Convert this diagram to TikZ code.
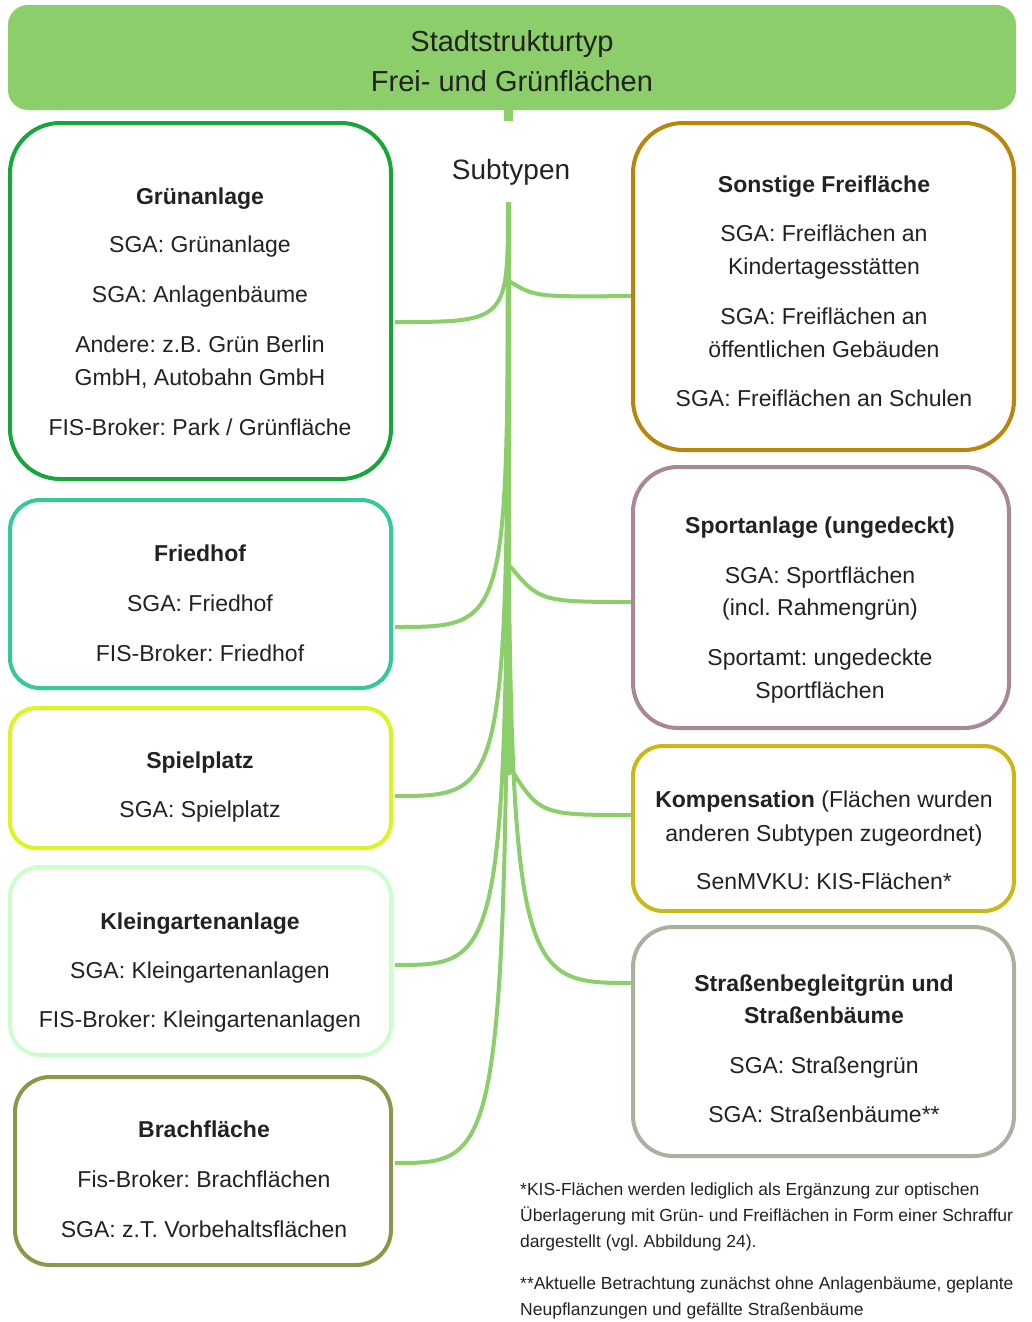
\documentclass[tikz,border=0pt]{standalone}
\usepackage{fontspec}
\setmainfont{Liberation Sans}
\frenchspacing
\definecolor{hdr}{RGB}{139,206,106}
\definecolor{cGruen}{RGB}{24,166,60}
\definecolor{cFried}{RGB}{52,202,152}
\definecolor{cSpiel}{RGB}{218,245,32}
\definecolor{cKlein}{RGB}{204,253,204}
\definecolor{cBrach}{RGB}{138,152,72}
\definecolor{cSonst}{RGB}{186,133,12}
\definecolor{cSport}{RGB}{168,135,150}
\definecolor{cKomp}{RGB}{202,183,26}
\definecolor{cStr}{RGB}{168,178,158}
\definecolor{txtc}{RGB}{34,34,34}
\tikzset{
  box/.style={draw=#1, line width=4pt, fill=white, inner sep=0pt},
  conn/.style={draw=hdr, line width=4pt},
  txt/.style={anchor=base, inner sep=0pt, text=txtc, font=\fontsize{23}{27}\selectfont},
  ttl/.style={txt, font=\fontsize{23}{27}\selectfont\bfseries},
  foot/.style={anchor=base west, inner sep=0pt, text=txtc, font=\fontsize{17.5}{21}\selectfont},
}
\begin{document}
\begin{tikzpicture}[x=1pt,y=-1pt]
\useasboundingbox (0,0) rectangle (1031,1322);
% header
\node[fill=hdr, rounded corners=20pt, minimum width=1008pt, minimum height=105pt, inner sep=0pt] (hdr) at (512,57.5) {};
\node[txt, font=\fontsize{29}{33}\selectfont] (h1) at (512,52) {Stadtstrukturtyp};
\node[txt, font=\fontsize{29}{33}\selectfont] (h2) at (512,92) {Frei- und Grünflächen};
\coordinate (stub) at (508,121);
\draw[hdr, line width=9pt] (508,109) -- (stub);
\node[txt, font=\fontsize{28}{32}\selectfont] (sub) at (511,179) {Subtypen};
\coordinate (top) at (508,202);
% trunk
\draw[conn, line width=5pt] (top) -- (508,775);
% connectors (left)
\draw[conn] (top) .. controls (508,322) .. (395,322) coordinate (cg);
\draw[conn] (top) .. controls (508,627) .. (395,627) coordinate (cf);
\draw[conn] (top) .. controls (508,796) .. (395,796) coordinate (cs);
\draw[conn] (top) .. controls (508,965) .. (395,965) coordinate (ck);
\draw[conn] (top) .. controls (508,1163) .. (395,1163) coordinate (cb);
% connectors (right)
\draw[conn] (509,281) .. controls (535,297) .. (633,296);
\draw[conn] (509,565) .. controls (540,602) .. (637,602);
\draw[conn] (509,766) .. controls (540,815) .. (633,815);
\draw[conn] (top) .. controls (508,983) .. (633,983);
% left boxes
\node[box=cGruen, rounded corners=50pt, minimum width=381pt, minimum height=356pt] (gruen) at (200.5,301) {};
\node[box=cFried, rounded corners=30pt, minimum width=381pt, minimum height=188pt] (fried) at (200.5,594) {};
\node[box=cSpiel, rounded corners=26pt, minimum width=381pt, minimum height=140pt] (spiel) at (200.5,778) {};
\node[box=cKlein, rounded corners=30pt, minimum width=381pt, minimum height=188pt] (klein) at (200.5,961) {};
\node[box=cBrach, rounded corners=35pt, minimum width=376pt, minimum height=188pt] (brach) at (203,1171) {};
% right boxes
\node[box=cSonst, rounded corners=50pt, minimum width=381pt, minimum height=327pt] (sonst) at (823.5,286.5) {};
\node[box=cSport, rounded corners=45pt, minimum width=376pt, minimum height=261pt] (sport) at (821,597.5) {};
\node[box=cKomp, rounded corners=30pt, minimum width=381pt, minimum height=165pt] (komp) at (823.5,828.5) {};
\node[box=cStr, rounded corners=40pt, minimum width=381pt, minimum height=229pt] (str) at (823.5,1041.5) {};
% texts left
\node[ttl] (g0) at (200,204) {Grünanlage};
\node[txt] (g1) at (200,252) {SGA: Grünanlage};
\node[txt] (g2) at (200,302) {SGA: Anlagenbäume};
\node[txt] (g3) at (200,352) {Andere: z.B. Grün Berlin};
\node[txt] (g4) at (200,385) {GmbH, Autobahn GmbH};
\node[txt] (g5) at (200,435) {FIS-Broker: Park / Grünfläche};
\node[ttl] (f0) at (200,561) {Friedhof};
\node[txt] (f1) at (200,611) {SGA: Friedhof};
\node[txt] (f2) at (200,661) {FIS-Broker: Friedhof};
\node[ttl] (s0) at (200,768) {Spielplatz};
\node[txt] (s1) at (200,817) {SGA: Spielplatz};
\node[ttl] (k0) at (200,929) {Kleingartenanlage};
\node[txt] (k1) at (200,978) {SGA: Kleingartenanlagen};
\node[txt] (k2) at (200,1027) {FIS-Broker: Kleingartenanlagen};
\node[ttl] (b0) at (204,1137) {Brachfläche};
\node[txt] (b1) at (204,1187) {Fis-Broker: Brachflächen};
\node[txt] (b2) at (204,1237) {SGA: z.T. Vorbehaltsflächen};
% texts right
\node[ttl] (o0) at (824,192) {Sonstige Freifläche};
\node[txt] (o1) at (824,241) {SGA: Freiflächen an};
\node[txt] (o2) at (824,274) {Kindertagesstätten};
\node[txt] (o3) at (824,324) {SGA: Freiflächen an};
\node[txt] (o4) at (824,357) {öffentlichen Gebäuden};
\node[txt] (o5) at (824,406) {SGA: Freiflächen an Schulen};
\node[ttl] (p0) at (820,533) {Sportanlage (ungedeckt)};
\node[txt] (p1) at (820,583) {SGA: Sportflächen};
\node[txt] (p2) at (820,615) {(incl. Rahmengrün)};
\node[txt] (p3) at (820,665) {Sportamt: ungedeckte};
\node[txt] (p4) at (820,698) {Sportflächen};
\node[txt] (m0) at (824,807) {\textbf{Kompensation} (Flächen wurden};
\node[txt] (m1) at (824,841) {anderen Subtypen zugeordnet)};
\node[txt] (m2) at (824,889) {SenMVKU: KIS-Flächen*};
\node[ttl] (t0) at (824,991) {Straßenbegleitgrün und};
\node[ttl] (t1) at (824,1023) {Straßenbäume};
\node[txt] (t2) at (824,1073) {SGA: Straßengrün};
\node[txt] (t3) at (824,1122) {SGA: Straßenbäume**};
% footnotes
\node[foot] (n1) at (520,1195) {*KIS-Flächen werden lediglich als Ergänzung zur optischen};
\node[foot] (n2) at (520,1221) {Überlagerung mit Grün- und Freiflächen in Form einer Schraffur};
\node[foot] (n3) at (520,1247) {dargestellt (vgl. Abbildung 24).};
\node[foot] (n4) at (520,1289) {**Aktuelle Betrachtung zunächst ohne Anlagenbäume, geplante};
\node[foot] (n5) at (520,1315) {Neupflanzungen und gefällte Straßenbäume};
\end{tikzpicture}
\end{document}
